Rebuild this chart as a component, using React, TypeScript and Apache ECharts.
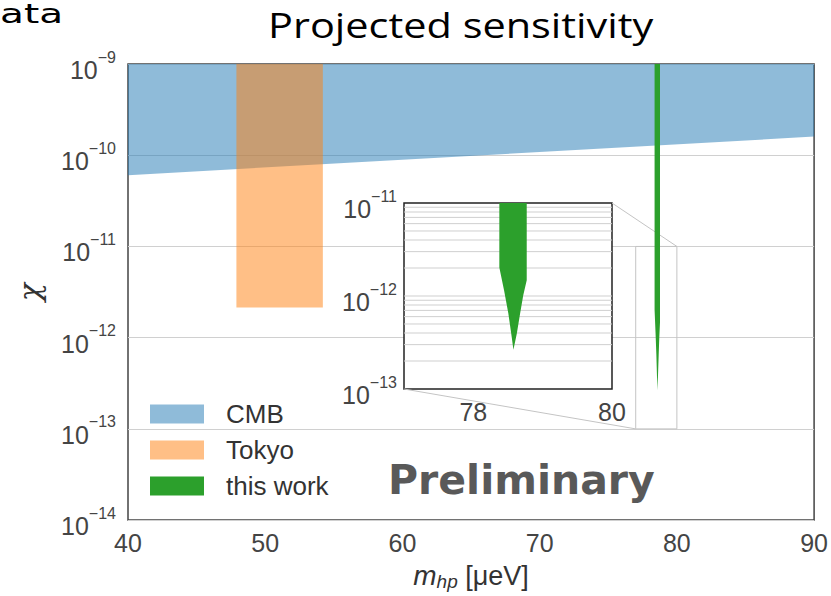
import React, { useEffect, useRef } from "react";
import * as echarts from "echarts";

const FONT = "'Liberation Sans', Arial, sans-serif";

// axis ticks
const xTickValues = [40, 50, 60, 70, 80, 90];
const insetXTickValues = [78, 80];
const insetGridChi = [
  2e-13, 3e-13, 4e-13, 5e-13, 6e-13, 7e-13, 8e-13, 9e-13,
  1e-12, 2e-12, 3e-12, 4e-12, 5e-12, 6e-12, 7e-12, 8e-12, 9e-12,
];

// CMB excluded region (polygon: mass, chi)
const cmbMass = [40, 40, 90, 90];
const cmbChi = [1e-9, 6.05e-11, 1.6e-10, 1e-9];

// Tokyo excluded region
const tokyoMass = [47.9, 47.9, 54.2, 54.2];
const tokyoChi = [1e-9, 2.14e-12, 2.14e-12, 1e-9];

// this work projected sensitivity
const workMass = [78.375, 78.375, 78.443, 78.505, 78.554, 78.578, 78.626, 78.674, 78.72, 78.77, 78.77];
const workChi = [1e-9, 2.02e-12, 1.15e-12, 6.5e-13, 3.6e-13, 2.65e-13, 3.9e-13, 6.46e-13, 1.02e-12, 1.48e-12, 1e-9];

// zoom indicator box
const zoomMass = [77, 80, 80, 77, 77];
const zoomChi = [1e-11, 1e-11, 1e-13, 1e-13, 1e-11];

const supRich = {
  b: { fontSize: 25, lineHeight: 25, padding: [12, 0, 0, 0], color: "#444", fontFamily: FONT },
  s: { fontSize: 16, lineHeight: 16, padding: [0, 0, 14, 0], color: "#444", fontFamily: FONT },
};
const supFormatter = (v: number) => {
  const e = Math.round(Math.log10(v));
  return `{b|10}{s|\u2212${Math.abs(e)}}`;
};

function polygonSeries(name: string, xs: number[], ys: number[], color: string, gi: number, z: number) {
  return {
    type: "custom",
    name,
    xAxisIndex: gi,
    yAxisIndex: gi,
    z,
    silent: true,
    itemStyle: { color },
    data: xs.map((x, i) => [x, ys[i]]),
    encode: { x: 0, y: 1 },
    renderItem: (params: any, api: any) => {
      if (params.dataIndex !== 0) return null;
      const cs = params.coordSys;
      const pts = xs.map((x, i) => {
        const p = api.coord([x, ys[i]]);
        return [
          Math.min(Math.max(p[0], cs.x), cs.x + cs.width),
          Math.min(Math.max(p[1], cs.y), cs.y + cs.height),
        ];
      });
      return { type: "polygon", shape: { points: pts }, style: { fill: color } };
    },
  };
}

export default function App() {
  const ref = useRef<HTMLDivElement>(null);
  useEffect(() => {
    if (!ref.current) return;
    const chart = echarts.init(ref.current, undefined, { renderer: "svg" });
    const option: any = {
      animation: false,
      backgroundColor: "#fff",
      grid: [
        { left: 128, top: 64, width: 691, height: 464, show: true, borderColor: "#444", borderWidth: 1.5, z: 0 },
        { left: 404, top: 203, width: 208, height: 186, show: true, backgroundColor: "#fff", borderColor: "#222", borderWidth: 1.5, z: 1 },
      ],
      xAxis: [
        {
          type: "value", gridIndex: 0, min: 40, max: 90, interval: 10,
          axisLine: { show: false }, axisTick: { show: false }, splitLine: { show: false },
          axisLabel: {
            fontSize: 25, color: "#444", fontFamily: FONT, margin: 10,
            formatter: (v: number) => (xTickValues.includes(v) ? String(v) : ""),
          },
          name: "{i|m}{sub|hp}{n| [\u03bceV]}",
          nameLocation: "middle",
          nameGap: 36,
          nameTextStyle: {
            rich: {
              i: { fontSize: 28, lineHeight: 30, fontStyle: "italic", color: "#333", fontFamily: FONT },
              sub: { fontSize: 19, lineHeight: 19, padding: [12, 0, 0, 0], fontStyle: "italic", color: "#333", fontFamily: FONT },
              n: { fontSize: 27, lineHeight: 30, color: "#333", fontFamily: FONT },
            },
          },
        },
        {
          type: "value", gridIndex: 1, min: 77, max: 80, interval: 1, z: 2,
          axisLine: { show: false }, axisTick: { show: false }, splitLine: { show: false },
          axisLabel: {
            fontSize: 25, color: "#444", fontFamily: FONT, margin: 10,
            formatter: (v: number) => (insetXTickValues.includes(v) ? String(v) : ""),
          },
        },
      ],
      yAxis: [
        {
          type: "log", logBase: 10, gridIndex: 0, min: 1e-14, max: 1e-9,
          axisLine: { show: false }, axisTick: { show: false },
          splitLine: { show: true, lineStyle: { color: "#d0d0d0", width: 1 } },
          axisLabel: { margin: 12, formatter: supFormatter, rich: supRich },
          name: "\u03c7",
          nameLocation: "middle",
          nameGap: 84,
          nameTextStyle: { fontSize: 30, color: "#333", fontFamily: "'DejaVu Serif', serif", fontStyle: "italic" },
        },
        {
          type: "log", logBase: 10, gridIndex: 1, min: 1e-13, max: 1e-11, z: 2,
          axisLine: { show: false }, axisTick: { show: false }, splitLine: { show: false },
          axisLabel: { margin: 7, formatter: supFormatter, rich: supRich },
        },
      ],
      legend: {
        orient: "vertical",
        left: 150,
        top: 401,
        padding: 0,
        itemGap: 10,
        itemWidth: 54,
        itemHeight: 19,
        textStyle: { fontSize: 26, lineHeight: 26, color: "#333", fontFamily: FONT, padding: [0, 0, 0, 17] },
        data: [
          { name: "CMB", icon: "rect" },
          { name: "Tokyo", icon: "rect" },
          { name: "this work", icon: "rect" },
        ],
      },
      series: [
        polygonSeries("CMB", cmbMass, cmbChi, "rgba(31,119,180,0.5)", 0, 2),
        polygonSeries("Tokyo", tokyoMass, tokyoChi, "rgba(255,127,14,0.5)", 0, 2),
        {
          type: "line", name: "zoom box", xAxisIndex: 0, yAxisIndex: 0, z: 2,
          data: zoomMass.map((x, i) => [x, zoomChi[i]]),
          symbol: "none", silent: true,
          lineStyle: { color: "#c4c4c4", width: 1 },
        },
        polygonSeries("this work", workMass, workChi, "#2ca02c", 0, 3),
        {
          type: "custom", name: "inset grid", xAxisIndex: 1, yAxisIndex: 1, z: 2, silent: true,
          data: insetGridChi.map((v) => [78, v]),
          encode: { x: 0, y: 1 },
          renderItem: (params: any, api: any) => {
            const cs = params.coordSys;
            const p = api.coord([78, api.value(1)]);
            return {
              type: "line",
              shape: { x1: cs.x, y1: p[1], x2: cs.x + cs.width, y2: p[1] },
              style: { stroke: "#cfcfcf", lineWidth: 1 },
            };
          },
        },
        polygonSeries("this work", workMass, workChi, "#2ca02c", 1, 3),
      ],
    };
    chart.setOption(option);

    const a1 = chart.convertToPixel({ gridIndex: 1 } as any, [80, 1e-11]) as number[];
    const a2 = chart.convertToPixel({ gridIndex: 0 } as any, [80, 1e-11]) as number[];
    const b1 = chart.convertToPixel({ gridIndex: 1 } as any, [77, 1e-13]) as number[];
    const b2 = chart.convertToPixel({ gridIndex: 0 } as any, [77, 1e-13]) as number[];

    chart.setOption({
      graphic: [
        {
          type: "text", x: 0, y: 1, z: 10, scaleX: 1.5,
          style: { text: "ata", fontSize: 26, fontFamily: "'DejaVu Sans', sans-serif", fill: "#000", verticalAlign: "top", align: "left" },
        },
        {
          type: "text", x: 268, y: 25, z: 10, scaleX: 1.22,
          style: { text: "Projected sensitivity", fontSize: 34, fontFamily: "'Open Sans', sans-serif", fill: "#000", verticalAlign: "middle", align: "left" },
        },
        {
          type: "text", x: 388, y: 480, z: 10,
          style: { text: "Preliminary", fontSize: 41, fontWeight: "bold", fontFamily: "'DejaVu Sans', sans-serif", fill: "#595959", verticalAlign: "middle", align: "left" },
        },
        {
          type: "line", z: 1, silent: true,
          shape: { x1: a1[0], y1: a1[1], x2: a2[0], y2: a2[1] },
          style: { stroke: "#c4c4c4", lineWidth: 1 },
        },
        {
          type: "line", z: 1, silent: true,
          shape: { x1: b1[0], y1: b1[1], x2: b2[0], y2: b2[1] },
          style: { stroke: "#c4c4c4", lineWidth: 1 },
        },
      ],
    });

    return () => chart.dispose();
  }, []);
  return (
    <div
      ref={ref}
      style={{ position: "fixed", left: 0, top: 0, width: 831, height: 596, background: "#fff" }}
    />
  );
}
